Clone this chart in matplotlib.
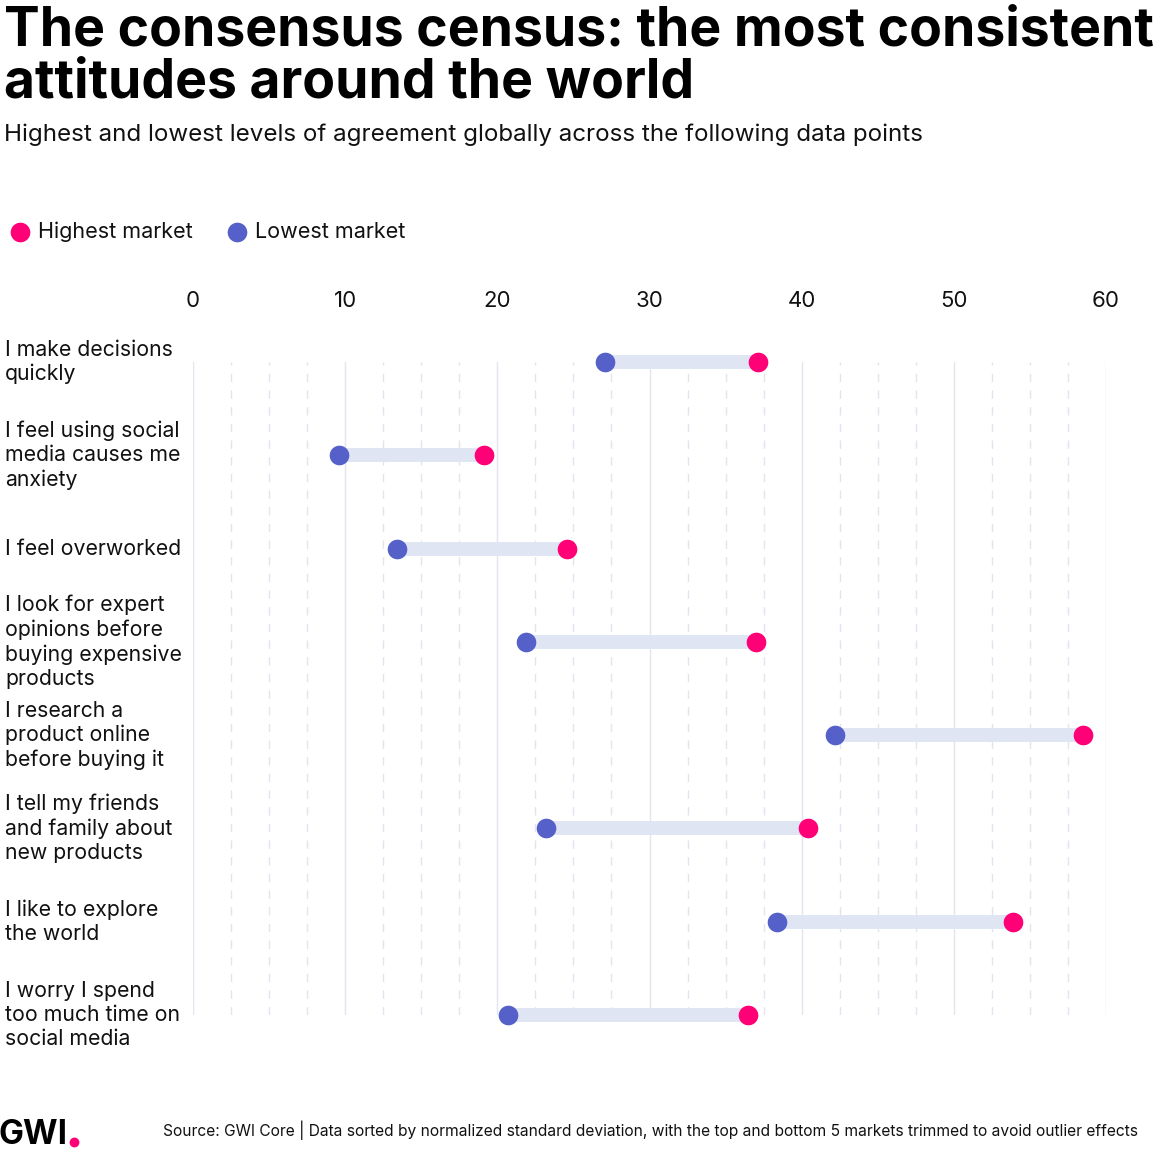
import matplotlib.pyplot as plt
from matplotlib.transforms import blended_transform_factory

statements = [
    "I make decisions\nquickly",
    "I feel using social\nmedia causes me\nanxiety",
    "I feel overworked",
    "I look for expert\nopinions before\nbuying expensive\nproducts",
    "I research a\nproduct online\nbefore buying it",
    "I tell my friends\nand family about\nnew products",
    "I like to explore\nthe world",
    "I worry I spend\ntoo much time on\nsocial media",
]
lowest = [27.1, 9.6, 13.4, 21.9, 42.2, 23.2, 38.4, 20.7]
highest = [37.1, 19.1, 24.6, 37.0, 58.5, 40.4, 53.9, 36.5]
ticks = [0, 10, 20, 30, 40, 50, 60]

PINK = "#FF0077"
BLUE = "#5561C9"
BAR = "#DFE5F3"
GRID = "#E1E5EE"
FONT = "Inter"

W, H = 1160, 1160
fig = plt.figure(figsize=(W / 100, H / 100), dpi=100)

# axes placed in pixel terms: x 0 -> 193px, 60 -> 1106px; rows 362px..1015px
left, right = 193, 1106
top, bottom = 362, 1015
ax = fig.add_axes([left / W, 1 - bottom / H, (right - left) / W, (bottom - top) / H])
ax.set_xlim(0, 60)
ax.set_ylim(len(statements) - 1, 0)
for s in ax.spines.values():
    s.set_visible(False)

# grid: solid every 10, dashed every 2.5
minor = [i * 2.5 for i in range(25) if (i * 2.5) % 10 != 0]
for v in ticks:
    ax.axvline(v, color=GRID, lw=1, zorder=0)
for v in minor:
    ax.axvline(v, color=GRID, lw=1, ls=(0, (6, 6)), zorder=0)

ys = list(range(len(statements)))
for y, lo, hi in zip(ys, lowest, highest):
    ax.plot([lo, hi], [y, y], color=BAR, lw=10, solid_capstyle="butt", zorder=1, clip_on=False)
ax.scatter(lowest, ys, s=200, color=BLUE, zorder=3, clip_on=False, linewidths=0)
ax.scatter(highest, ys, s=200, color=PINK, zorder=3, clip_on=False, linewidths=0)

ax.xaxis.tick_top()
ax.set_xticks(ticks)
ax.set_xticklabels([str(t) for t in ticks], fontsize=16, family=FONT, color="#111111")
ax.tick_params(axis="x", length=0, pad=37)
ax.set_yticks([])

trans = blended_transform_factory(fig.transFigure, ax.transData)
for y, lab in zip(ys, statements):
    ax.text(5 / W, y, lab, transform=trans, ha="left", va="center",
            fontsize=15.3, family=FONT, color="#111111", linespacing=1.25)

# titles
fig.text(4 / W, 1 - 6 / H, "The consensus census: the most consistent\nattitudes around the world",
         ha="left", va="top", fontsize=38.5, fontweight="bold", family=FONT,
         color="#000000", linespacing=1.0)
fig.text(4 / W, 1 - 135 / H, "Highest and lowest levels of agreement globally across the following data points",
         ha="left", va="center", fontsize=17.4, family=FONT, color="#111111")

# legend and footer on an overlay axes in pixel coordinates
lax = fig.add_axes([0, 0, 1, 1], facecolor="none")
lax.set_xlim(0, W)
lax.set_ylim(H, 0)
lax.axis("off")
lax.scatter([20], [232], s=200, color=PINK, linewidths=0)
lax.text(38, 232, "Highest market", ha="left", va="center", fontsize=15.5, family=FONT, color="#111111")
lax.scatter([237], [232], s=200, color=BLUE, linewidths=0)
lax.text(255, 232, "Lowest market", ha="left", va="center", fontsize=15.5, family=FONT, color="#111111")

lax.text(-1, 1135, "GWI", ha="left", va="center", fontsize=24, fontweight="bold", family=FONT, color="#000000")
lax.scatter([74], [1142], s=50, color=PINK, linewidths=0)
lax.text(163, 1130, "Source: GWI Core | Data sorted by normalized standard deviation, with the top and bottom 5 markets trimmed to avoid outlier effects",
         ha="left", va="center", fontsize=11.2, family=FONT, color="#111111")

fig.savefig("out.png", dpi=100, facecolor="white")
